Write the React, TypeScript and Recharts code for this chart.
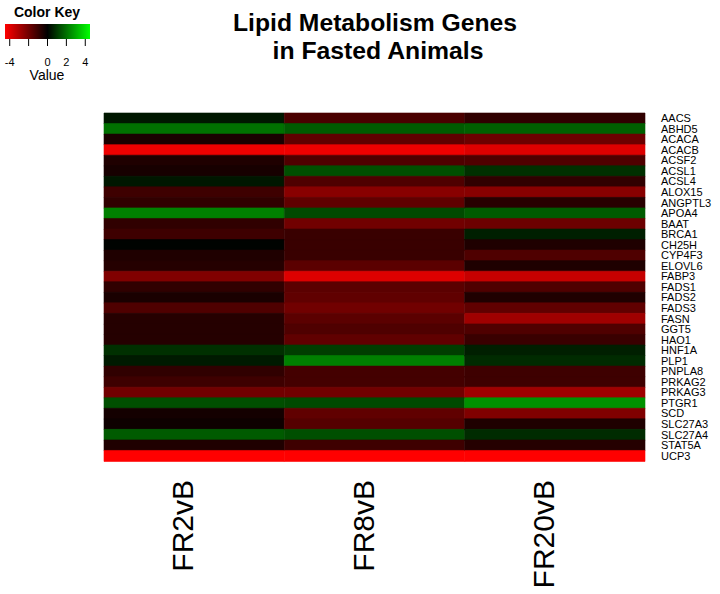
import { BarChart, Bar, XAxis, YAxis, Cell } from 'recharts';

const genes = [
  'AACS', 'ABHD5', 'ACACA', 'ACACB', 'ACSF2', 'ACSL1', 'ACSL4', 'ALOX15', 'ANGPTL3', 'APOA4', 'BAAT',
  'BRCA1', 'CH25H', 'CYP4F3', 'ELOVL6', 'FABP3', 'FADS1', 'FADS2', 'FADS3', 'FASN', 'GGT5', 'HAO1',
  'HNF1A', 'PLP1', 'PNPLA8', 'PRKAG2', 'PRKAG3', 'PTGR1', 'SCD', 'SLC27A3', 'SLC27A4', 'STAT5A', 'UCP3',
];

// log fold changes
const fr2vB = [
  0.4, 2.0, -0.45, -4.2, -0.55, -0.4, 0.4, -1.1, -0.85, 2.25, -0.85,
  -1.1, 0.05, -0.55, -0.65, -2.25, -0.85, -0.45, -1.4, -0.65, -0.65, -0.65,
  0.85, 0.45, -0.85, -1.1, -2.0, 1.4, -0.35, -0.25, 1.6, -0.55, -4.5,
];
const fr8vB = [
  -1.3, 1.6, -1.7, -4.2, -1.4, 1.4, -1.4, -2.4, -1.7, 1.3, -2.0,
  -1.0, -1.0, -1.0, -1.6, -3.9, -1.6, -1.7, -2.0, -1.6, -1.4, -1.7,
  1.1, 2.25, -1.2, -1.2, -2.0, 1.3, -1.7, -1.5, 1.4, -1.1, -4.5,
];
const fr20vB = [
  -0.85, 1.7, -1.9, -3.9, -1.4, 0.85, -0.85, -2.4, -0.7, 1.6, -1.9,
  0.55, -0.55, -1.4, -0.55, -3.5, -1.4, -0.55, -1.7, -2.8, -1.4, -1.0,
  0.55, 0.75, -1.1, -1.1, -2.8, 2.55, -2.25, -0.55, 0.75, -0.65, -4.5,
];

const conditions = ['FR2vB', 'FR8vB', 'FR20vB'];
const columns = [fr2vB, fr8vB, fr20vB];

const keyTicks = [-4, -2, 0, 2, 4];
const keyTickLabels = ['-4', '', '0', '2', '4'];
const keyRange = [-4.5, 4.5];

const FONT = '"Liberation Sans", Arial, Helvetica, sans-serif';

function heatColor(v: number) {
  const t = Math.min(1, Math.abs(v) / keyRange[1]);
  const c = Math.round(t * 255);
  return v < 0 ? `rgb(${c},0,0)` : `rgb(0,${c},0)`;
}

const rows = genes.map((gene, i) => ({
  gene,
  c0: 1,
  c1: 1,
  c2: 1,
  values: columns.map(col => col[i]),
}));

const keyData = [{ name: 'key', range: keyRange }];

const ConditionTick = (props: any) => {
  const { x, y, payload } = props;
  const label = conditions[Math.floor(payload.value)];
  const tx = x - 1;
  const ty = y + 11;
  return (
    <text
      x={tx}
      y={ty}
      transform={`rotate(-90, ${tx}, ${ty})`}
      textAnchor="end"
      fontSize={30}
      fontFamily={FONT}
      fill="#000"
    >
      {label}
    </text>
  );
};

export default function App() {
  return (
    <div style={{ position: 'absolute', left: 0, top: 0, width: 720, height: 594, background: '#fff' }}>
      <div style={{ position: 'absolute', left: 0, top: 0 }}>
        <BarChart
          width={720}
          height={594}
          data={rows}
          layout="vertical"
          margin={{ top: 113, right: 15, bottom: 103, left: 104 }}
          barCategoryGap={0}
          barGap={0}
        >
          <XAxis
            type="number"
            domain={[0, 3]}
            ticks={[0.5, 1.5, 2.5]}
            height={30}
            axisLine={false}
            tickLine={false}
            tick={<ConditionTick />}
            interval={0}
          />
          <YAxis
            type="category"
            dataKey="gene"
            orientation="right"
            width={60}
            axisLine={false}
            tickLine={false}
            tickMargin={10}
            interval={0}
            tick={{ fontSize: 11, fill: '#000', fontFamily: FONT }}
          />
          {[0, 1, 2].map(ci => (
            <Bar key={ci} dataKey={`c${ci}`} stackId="heat" isAnimationActive={false}>
              {rows.map((r, ri) => (
                <Cell
                  key={ri}
                  fill={heatColor(r.values[ci])}
                  stroke={heatColor(r.values[ci])}
                  strokeWidth={0.6}
                />
              ))}
            </Bar>
          ))}
        </BarChart>
      </div>

      <div style={{ position: 'absolute', left: 0, top: 0 }}>
        <BarChart
          width={100}
          height={80}
          data={keyData}
          layout="vertical"
          margin={{ top: 24, right: 10, bottom: 11, left: 5 }}
          barCategoryGap={0}
        >
          <defs>
            <linearGradient id="keyGrad" x1="0" y1="0" x2="1" y2="0">
              <stop offset="0%" stopColor="#ff0000" />
              <stop offset="50%" stopColor="#000000" />
              <stop offset="100%" stopColor="#00ff00" />
            </linearGradient>
          </defs>
          <XAxis
            type="number"
            domain={keyRange}
            ticks={keyTicks}
            height={30}
            axisLine={false}
            tickSize={7}
            tickMargin={12}
            tickLine={{ stroke: '#000' }}
            tickFormatter={(v: number) => keyTickLabels[keyTicks.indexOf(v)]}
            tick={{ fontSize: 11, fill: '#000', fontFamily: FONT }}
            interval={0}
          />
          <YAxis type="category" dataKey="name" hide />
          <Bar dataKey="range" fill="url(#keyGrad)" isAnimationActive={false} />
        </BarChart>
      </div>

      <svg
        width={720}
        height={594}
        style={{ position: 'absolute', left: 0, top: 0, pointerEvents: 'none' }}
      >
        <text
          x={375}
          y={31}
          textAnchor="middle"
          fontSize={23}
          fontWeight="bold"
          fontFamily={FONT}
          textLength={284}
          lengthAdjust="spacingAndGlyphs"
        >
          Lipid Metabolism Genes
        </text>
        <text
          x={378}
          y={59}
          textAnchor="middle"
          fontSize={23}
          fontWeight="bold"
          fontFamily={FONT}
          textLength={211}
          lengthAdjust="spacingAndGlyphs"
        >
          in Fasted Animals
        </text>
        <text x={47} y={17} textAnchor="middle" fontSize={14} fontWeight="bold" fontFamily={FONT}>
          Color Key
        </text>
        <text x={47} y={80} textAnchor="middle" fontSize={14} fontFamily={FONT}>
          Value
        </text>
      </svg>
    </div>
  );
}
